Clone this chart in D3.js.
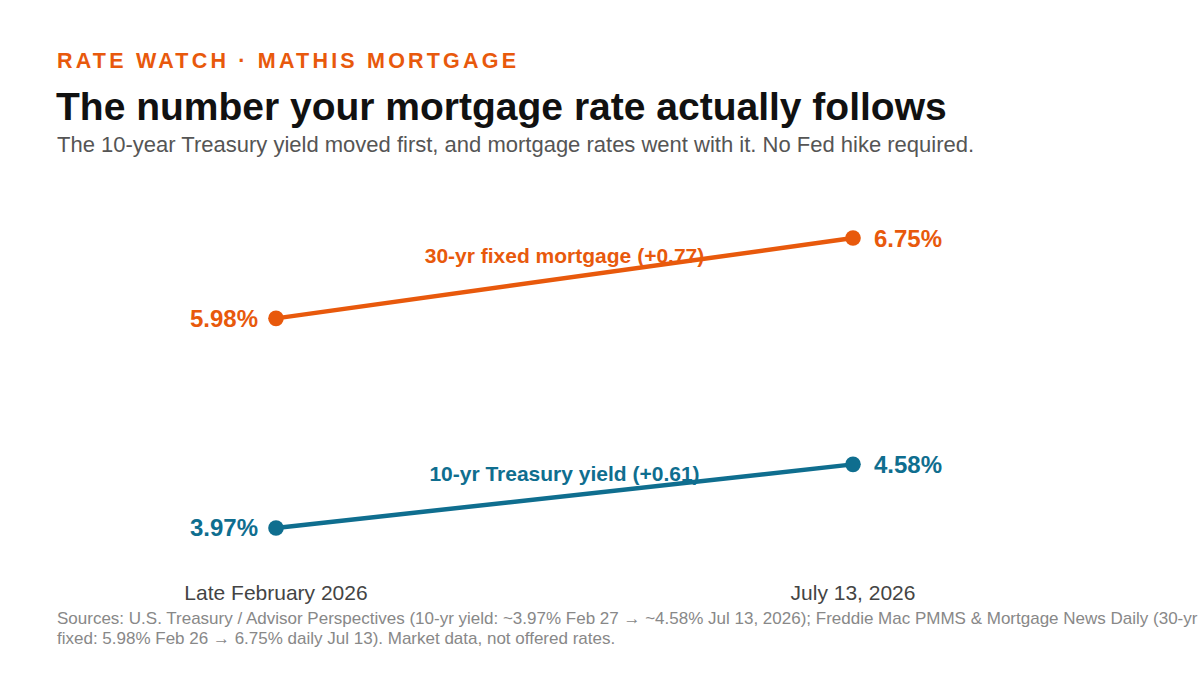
<!DOCTYPE html>
<html>
<head>
<meta charset="utf-8">
<script src="https://cdn.jsdelivr.net/npm/d3@7"></script>
<style>
  body { margin: 0; background: #fff; }
  svg text { font-family: "Liberation Sans", Arial, sans-serif; }
</style>
</head>
<body>
<svg id="chart" width="1200" height="675"></svg>
<script>
  var periods = ['Late February 2026', 'July 13, 2026'];
  var seriesNames = ['30-yr fixed mortgage', '10-yr Treasury yield'];
  var mortgage = [5.98, 6.75];
  var treasury = [3.97, 4.58];
  var colors = ['#e8590c', '#0f6e8f'];

  var series = [
    {name: seriesNames[0], values: mortgage, color: colors[0]},
    {name: seriesNames[1], values: treasury, color: colors[1]}
  ];

  var svg = d3.select('#chart');

  // header
  svg.append('text')
    .attr('x', 57).attr('y', 68)
    .attr('fill', '#e8590c')
    .attr('font-size', 21.5).attr('font-weight', 700)
    .attr('letter-spacing', 3.2)
    .text('RATE WATCH · MATHIS MORTGAGE');

  svg.append('text')
    .attr('x', 56).attr('y', 120)
    .attr('fill', '#111')
    .attr('font-size', 39).attr('font-weight', 700)
    .text('The number your mortgage rate actually follows');

  svg.append('text')
    .attr('x', 57).attr('y', 152)
    .attr('fill', '#555')
    .attr('font-size', 22)
    .text('The 10-year Treasury yield moved first, and mortgage rates went with it. No Fed hike required.');

  var x = d3.scalePoint()
    .domain(periods)
    .range([276, 853]);

  var y = d3.scaleLinear()
    .domain([3.5, 7.0])
    .range([577, 212]);

  var line = d3.line()
    .x(function(d, i) { return x(periods[i]); })
    .y(function(d) { return y(d); });

  var g = svg.selectAll('g.series')
    .data(series)
    .enter().append('g')
    .attr('class', 'series');

  g.append('path')
    .attr('d', function(d) { return line(d.values); })
    .attr('fill', 'none')
    .attr('stroke', function(d) { return d.color; })
    .attr('stroke-width', 4.5);

  g.selectAll('circle')
    .data(function(d) { return d.values.map(function(v) { return {v: v, color: d.color}; }); })
    .enter().append('circle')
    .attr('cx', function(d, i) { return x(periods[i]); })
    .attr('cy', function(d) { return y(d.v); })
    .attr('r', 7.8)
    .attr('fill', function(d) { return d.color; });

  // value labels
  g.append('text')
    .attr('x', x(periods[0]) - 18)
    .attr('y', function(d) { return y(d.values[0]) + 8.5; })
    .attr('text-anchor', 'end')
    .attr('font-size', 24).attr('font-weight', 700)
    .attr('fill', function(d) { return d.color; })
    .text(function(d) { return d.values[0].toFixed(2) + '%'; });

  g.append('text')
    .attr('x', x(periods[1]) + 21)
    .attr('y', function(d) { return y(d.values[1]) + 8.5; })
    .attr('text-anchor', 'start')
    .attr('font-size', 24).attr('font-weight', 700)
    .attr('fill', function(d) { return d.color; })
    .text(function(d) { return d.values[1].toFixed(2) + '%'; });

  // series labels at the midpoint
  g.append('text')
    .attr('x', (x(periods[0]) + x(periods[1])) / 2)
    .attr('y', function(d) { return (y(d.values[0]) + y(d.values[1])) / 2 - 15; })
    .attr('text-anchor', 'middle')
    .attr('font-size', 21).attr('font-weight', 700)
    .attr('fill', function(d) { return d.color; })
    .text(function(d) {
      var diff = d.values[1] - d.values[0];
      return d.name + ' (+' + diff.toFixed(2) + ')';
    });

  // period labels
  svg.selectAll('text.period')
    .data(periods)
    .enter().append('text')
    .attr('class', 'period')
    .attr('x', function(d) { return x(d); })
    .attr('y', 600)
    .attr('text-anchor', 'middle')
    .attr('font-size', 21)
    .attr('fill', '#444')
    .text(function(d) { return d; });

  // sources
  var src = svg.append('text')
    .attr('x', 57).attr('y', 624)
    .attr('font-size', 17)
    .attr('fill', '#888');
  src.append('tspan')
    .attr('x', 57)
    .text('Sources: U.S. Treasury / Advisor Perspectives (10-yr yield: ~3.97% Feb 27 \u2192 ~4.58% Jul 13, 2026); Freddie Mac PMMS & Mortgage News Daily (30-yr');
  src.append('tspan')
    .attr('x', 57).attr('dy', 19.5)
    .text('fixed: 5.98% Feb 26 \u2192 6.75% daily Jul 13). Market data, not offered rates.');
</script>
</body>
</html>
